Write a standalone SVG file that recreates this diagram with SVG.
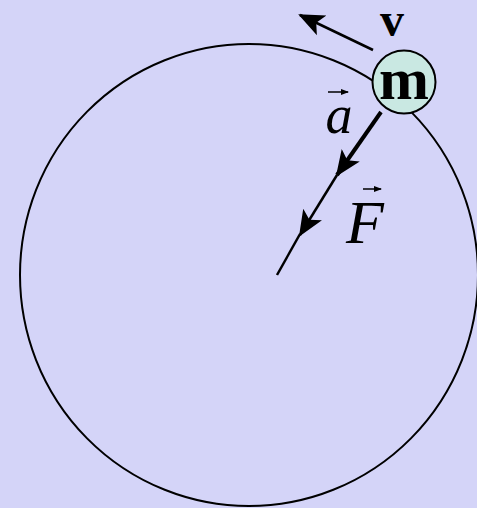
<svg xmlns="http://www.w3.org/2000/svg" width="477" height="508" viewBox="0 0 477 508">
<style>
.ln{stroke:#000;fill:none;stroke-linecap:butt}
.lbl{font-family:"Liberation Serif","Times New Roman",serif;fill:#000}
</style>
<defs>
<marker id="ah" markerUnits="userSpaceOnUse" markerWidth="28" markerHeight="24" refX="24" refY="11" orient="auto" viewBox="0 0 28 22">
<path d="M0,0 L26,11 L0,22 L6,11 Z" fill="#000"/>
</marker>
<marker id="sm" markerUnits="userSpaceOnUse" markerWidth="8" markerHeight="6" refX="7" refY="3" orient="auto" viewBox="0 0 8 6">
<path d="M0,0 L8,3 L0,6 Z" fill="#000"/>
</marker>
</defs>
<rect width="477" height="508" fill="#D4D4F8"/>
<g id="orbit">
<ellipse cx="249" cy="275" rx="229" ry="231" class="ln" stroke-width="2"/>
</g>
<g id="connectors">
<line x1="373" y1="50" x2="300" y2="15" class="ln" stroke-width="2.5" marker-end="url(#ah)"/>
<line x1="381" y1="112" x2="337" y2="175" class="ln" stroke-width="4" marker-end="url(#ah)"/>
<line x1="337" y1="175" x2="300" y2="235" class="ln" stroke-width="2.5" marker-end="url(#ah)"/>
<line x1="300" y1="234" x2="277" y2="275" class="ln" stroke-width="2.5"/>
</g>
<g id="mass">
<circle cx="404" cy="82" r="31.5" fill="#C9E8E2" stroke="#000" stroke-width="2"/>
<text x="404" y="99" class="lbl" font-size="60" font-weight="bold" text-anchor="middle">m</text>
</g>
<g id="label-v">
<text x="392" y="36" class="lbl" font-size="48" font-weight="bold" text-anchor="middle">v</text>
</g>
<g id="label-a">
<text x="339" y="133" class="lbl" font-size="54" font-style="italic" text-anchor="middle">a</text>
<line x1="328" y1="92" x2="348" y2="92" class="ln" stroke-width="1.5" marker-end="url(#sm)"/>
</g>
<g id="label-F">
<text x="365" y="243" class="lbl" font-size="62" font-style="italic" text-anchor="middle">F</text>
<line x1="363" y1="189" x2="381" y2="189" class="ln" stroke-width="1.5" marker-end="url(#sm)"/>
</g>
</svg>
